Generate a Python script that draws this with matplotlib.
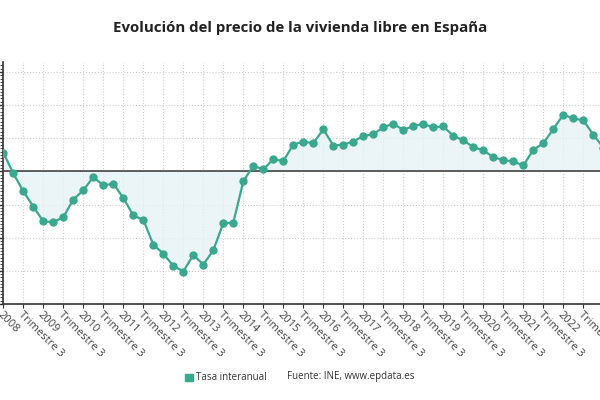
import matplotlib
matplotlib.use("Agg")
import matplotlib.pyplot as plt
from matplotlib.patches import Rectangle

years = list(range(2008, 2023))
values = [2.85, -0.3, -3.0, -5.3, -7.55, -7.65, -6.9, -4.25, -2.85, -0.85,
          -2.1, -1.85, -4.0, -6.65, -7.3, -11.05, -12.4, -14.25, -15.1, -12.6,
          -14.05, -11.9, -7.8, -7.75, -1.5, 0.85, 0.3, 1.85, 1.55, 4.05,
          4.5, 4.25, 6.35, 3.9, 4.05, 4.5, 5.35, 5.6, 6.65, 7.2,
          6.25, 6.85, 7.15, 6.65, 6.8, 5.35, 4.7, 3.65, 3.2, 2.15,
          1.7, 1.5, 0.9, 3.25, 4.25, 6.4, 8.55, 8.0, 7.7, 5.55, 3.6]
tick_labels = []
for y in years:
    tick_labels += [str(y), "Trimestre 3"]

plt.rcParams['font.family'] = ['Open Sans', 'DejaVu Sans']
fig = plt.figure(figsize=(6, 4), dpi=100)
ax = fig.add_axes([3.3/600, 1-304/400, (600-3.3)/600, (304-62)/400])

x = list(range(len(values)))
teal = '#3aa88e'
ax.fill_between(x, values, 0, color='#e6f3f5', alpha=0.8, zorder=1, linewidth=0)
ax.plot(x, values, color=teal, lw=1.6, marker='o', ms=5, zorder=3, clip_on=True)
ax.axhline(0, color='#333333', lw=1.1, zorder=2)

ax.set_xlim(0, 59.67)
ax.set_ylim(-20, 16.5)
ax.set_yticks([-20, -15, -10, -5, 0, 5, 10, 15])
ax.set_yticks([v/2 for v in range(-40, 33)], minor=True)
ax.set_yticklabels([])
ax.tick_params(axis='y', which='major', length=3, width=1, color='#333333')
ax.tick_params(axis='y', which='minor', length=2, width=0.6, color='#333333')

ticks = list(range(0, 2*len(years)*2, 2))[:len(tick_labels)]
ax.set_xticks(ticks)
ax.set_xticklabels(tick_labels, rotation=-45, ha='left', va='top',
                   rotation_mode='anchor', fontsize=8, color='#444444')
ax.tick_params(axis='x', length=3, color='#333333', pad=1)

ax.grid(True, which='major', color='#cccccc', linestyle=':', lw=0.8, zorder=0)
for s in ['top', 'right']:
    ax.spines[s].set_visible(False)
ax.spines['left'].set_color('#333333')
ax.spines['bottom'].set_color('#333333')
ax.spines['left'].set_linewidth(1.2)
ax.spines['bottom'].set_linewidth(1.2)
ax.set_axisbelow(True)

fig.text(0.5, 1-28/400, "Evolución del precio de la vivienda libre en España",
         ha='center', va='center', fontsize=10.8, fontweight='bold', color='#222222')

fig.patches.append(Rectangle((185/600, 1-381/400), 7.5/600, 7.5/400,
                             transform=fig.transFigure, color=teal))
fig.text(196/600, 1-377/400, "Tasa interanual", ha='left', va='center',
         fontsize=7, color='#333333')
fig.text(287/600, 1-377/400, "Fuente: INE, www.epdata.es", ha='left', va='center',
         fontsize=7, color='#333333')

fig.savefig("out.png", dpi=100)
